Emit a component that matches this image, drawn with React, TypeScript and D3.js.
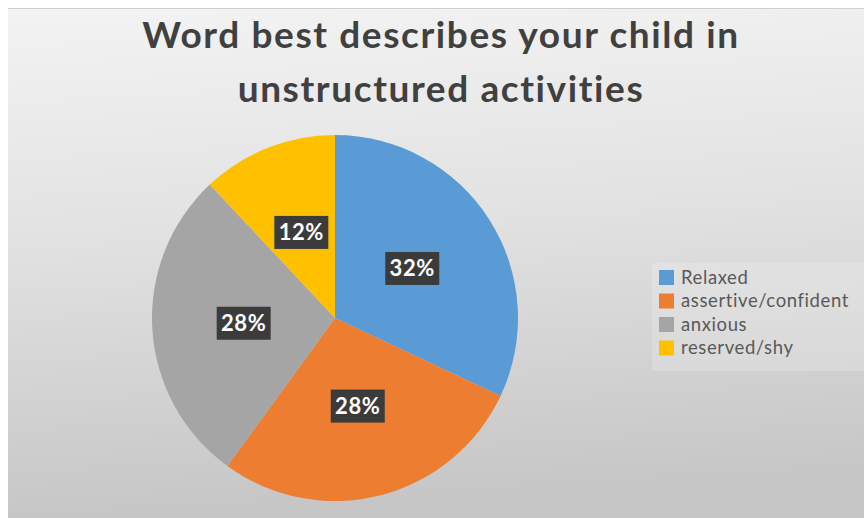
import { useEffect, useRef } from 'react';
import * as d3 from 'd3';

const categories = ['Relaxed', 'assertive/confident', 'anxious', 'reserved/shy'];
const values = [32, 28, 28, 12];
const colors = ['#5B9BD5', '#ED7D31', '#A5A5A5', '#FFC000'];
const titleLines = ['Word best describes your child in', 'unstructured activities'];

export default function App() {
  const svgRef = useRef<SVGSVGElement>(null);
  const width = 864;
  const height = 518;

  useEffect(() => {
    const svg = d3.select(svgRef.current);
    svg.selectAll('*').remove();

    const defs = svg.append('defs');
    const bg = defs.append('linearGradient')
      .attr('id', 'bg-grad')
      .attr('x1', '0%').attr('y1', '0%')
      .attr('x2', '10%').attr('y2', '100%');
    bg.append('stop').attr('offset', '0%').attr('stop-color', '#f3f3f3');
    bg.append('stop').attr('offset', '45%').attr('stop-color', '#e2e2e2');
    bg.append('stop').attr('offset', '100%').attr('stop-color', '#c6c6c6');

    // page margin and chart area
    svg.append('rect').attr('width', width).attr('height', height).attr('fill', '#ffffff');
    svg.append('rect')
      .attr('x', 8).attr('y', 8)
      .attr('width', width - 8).attr('height', height - 8)
      .attr('fill', 'url(#bg-grad)');
    svg.append('line')
      .attr('x1', 8).attr('x2', width)
      .attr('y1', 8.5).attr('y2', 8.5)
      .attr('stroke', '#cfcfcf');

    // title
    svg.append('text')
      .attr('x', 441)
      .attr('text-anchor', 'middle')
      .style('font-family', 'Lato, sans-serif')
      .style('font-weight', 'bold')
      .style('font-size', '37px')
      .style('letter-spacing', '1.6px')
      .style('fill', '#404040')
      .selectAll('tspan')
      .data(titleLines)
      .enter().append('tspan')
      .attr('x', 441)
      .attr('y', (d, i) => 48 + i * 54)
      .text(d => d);

    // pie
    const cx = 335;
    const cy = 318;
    const radius = 183;
    const pie = d3.pie<number>().sort(null).value(d => d);
    const arcs = pie(values);
    const arc = d3.arc<d3.PieArcDatum<number>>().innerRadius(0).outerRadius(radius);
    const labelArc = d3.arc<d3.PieArcDatum<number>>().innerRadius(radius / 2).outerRadius(radius / 2);

    const g = svg.append('g').attr('transform', `translate(${cx},${cy})`);
    g.selectAll('path')
      .data(arcs)
      .enter().append('path')
      .attr('d', arc)
      .attr('fill', (d, i) => colors[i]);

    const total = d3.sum(values);
    const labels = g.selectAll('.lbl')
      .data(arcs)
      .enter().append('g')
      .attr('class', 'lbl')
      .attr('transform', d => `translate(${labelArc.centroid(d)})`);
    labels.append('rect')
      .attr('x', -27).attr('y', -17)
      .attr('width', 54).attr('height', 33)
      .attr('fill', '#3b3b3b');
    labels.append('text')
      .attr('text-anchor', 'middle')
      .attr('y', 7.5)
      .style('font-family', 'Lato, sans-serif')
      .style('font-weight', 'bold')
      .style('font-size', '22px')
      .style('letter-spacing', '0.6px')
      .style('fill', '#ffffff')
      .text(d => `${Math.round((d.value / total) * 100)}%`);

    // legend
    svg.append('rect')
      .attr('x', 652).attr('y', 263)
      .attr('width', 212).attr('height', 108)
      .attr('fill', '#ffffff')
      .attr('opacity', 0.18);
    const legend = svg.append('g').attr('transform', 'translate(659,270)');
    const item = legend.selectAll('g')
      .data(categories)
      .enter().append('g')
      .attr('transform', (d, i) => `translate(0,${i * 23.5})`);
    item.append('rect')
      .attr('width', 15).attr('height', 15)
      .attr('fill', (d, i) => colors[i]);
    item.append('text')
      .attr('x', 22).attr('y', 13.5)
      .style('font-family', 'Lato, sans-serif')
      .style('font-size', '18.5px')
      .style('letter-spacing', '0.6px')
      .style('fill', '#595959')
      .text(d => d);
  }, []);

  return (
    <div style={{ position: 'fixed', left: 0, top: 0 }}>
      <svg ref={svgRef} width={width} height={height} style={{ display: 'block' }} />
    </div>
  );
}
